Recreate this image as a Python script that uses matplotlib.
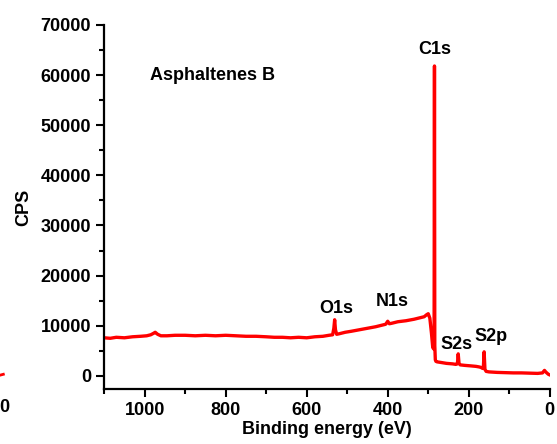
import matplotlib
matplotlib.use("Agg")
import matplotlib.pyplot as plt
from matplotlib.ticker import MultipleLocator

plt.rcParams['font.family'] = ['Liberation Sans', 'DejaVu Sans']
plt.rcParams['font.weight'] = 'bold'

# survey spectrum (binding energy eV, counts per second)
energy = [1100, 1085, 1070, 1050, 1030, 1010, 995, 985, 978, 974, 968, 960,
          945, 925, 900, 875, 850, 825, 800, 775, 750, 725, 700, 680, 660,
          640, 620, 600, 580, 560, 545, 536, 533, 531, 529, 526, 520, 505,
          490, 470, 450, 430, 415, 405, 400, 396, 390, 375, 355, 335, 320,
          310, 304, 300, 296, 292, 289, 287, 285.5, 284.6, 283.8, 282.5,
          281, 278, 270, 255, 240, 232, 228, 226, 224, 221, 210, 195, 182,
          175, 170, 166, 164, 162, 160, 157, 150, 130, 110, 90, 70, 50, 30,
          18, 13, 10, 6, 3, 0]
cps = [7600, 7500, 7700, 7600, 7800, 7900, 8000, 8200, 8500, 8700, 8300, 8000,
       8000, 8100, 8100, 8000, 8100, 8000, 8100, 8000, 7900, 7900, 7800, 7700,
       7700, 7600, 7700, 7600, 7800, 7900, 8100, 8200, 9500, 11200, 9200, 8300,
       8400, 8700, 8900, 9200, 9500, 9800, 10100, 10300, 10900, 10400, 10500,
       10800, 11000, 11300, 11600, 11800, 12200, 12400, 11500, 8500, 5800, 5400,
       9000, 61800, 6000, 3200, 2900, 2800, 2700, 2500, 2400, 2300, 2400, 4400,
       2500, 2200, 2100, 2000, 1900, 1800, 1700, 1500, 1500, 4800, 1300, 900,
       800, 700, 650, 600, 600, 550, 500, 600, 1100, 800, 500, 300, 200]

peak_names = ['C1s', 'O1s', 'N1s', 'S2s', 'S2p']
peak_x = [284, 528, 390, 230, 146]
peak_y = [65000, 13400, 14800, 6200, 7800]

fig = plt.figure(figsize=(5.57, 4.44), dpi=100)
ax = fig.add_axes([0.187, 0.124, 0.800, 0.820])

ax.plot(energy, cps, color='red', linewidth=2.4)

ax.set_xlim(1100, 0)
ax.set_ylim(-2600, 70000)
ax.xaxis.set_major_locator(MultipleLocator(200))
ax.xaxis.set_minor_locator(MultipleLocator(100))
ax.yaxis.set_major_locator(MultipleLocator(10000))
ax.yaxis.set_minor_locator(MultipleLocator(5000))

for side in ['top', 'right']:
    ax.spines[side].set_visible(False)
for side in ['left', 'bottom']:
    ax.spines[side].set_linewidth(1.6)

ax.tick_params(which='major', direction='out', length=6, width=1.5, labelsize=13)
ax.tick_params(which='minor', direction='out', length=3.5, width=1.5)
for lab in ax.get_xticklabels() + ax.get_yticklabels():
    lab.set_fontweight('bold')

ax.set_xlabel('Binding energy (eV)', fontsize=13, fontweight='bold', labelpad=1)
ax.set_ylabel('CPS', fontsize=13, fontweight='bold', labelpad=6)

ax.text(988, 60000, 'Asphaltenes B', fontsize=13, fontweight='bold',
        ha='left', va='center')
for name, px, py in zip(peak_names, peak_x, peak_y):
    ax.text(px, py, name, fontsize=13, fontweight='bold', ha='center', va='center')

# bits of the neighbouring panel cut off at the left edge
fig.text(0.016, 0.082, '0', fontsize=13, fontweight='bold', ha='right', va='center')
fig.add_artist(plt.Line2D([0.0, 0.006], [0.155, 0.157], color='red', linewidth=2))

fig.savefig('out.png', dpi=100)
